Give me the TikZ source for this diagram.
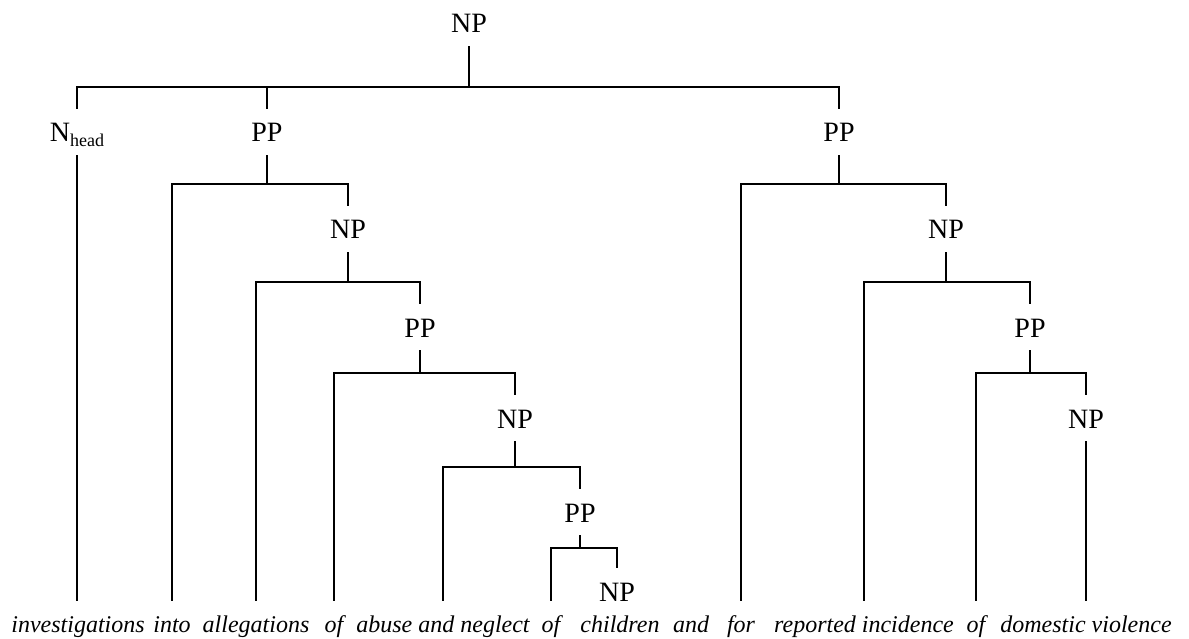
\documentclass[tikz,border=0pt]{standalone}
\usepackage{fontspec}
\setmainfont{Liberation Serif}
\begin{document}
\begin{tikzpicture}[x=1pt,y=-1pt,
  edge/.style={line width=1.3pt},
  lab/.style={font=\fontsize{28}{30}\selectfont, inner sep=0pt, text height=33pt, text depth=13pt, anchor=base},
  word/.style={font=\fontsize{24}{26}\selectfont\itshape, inner sep=0pt, text height=31pt, text depth=6pt, anchor=base}]
\useasboundingbox (0,0) rectangle (1189,639);
% phrase labels
\node[lab] (np0) at (469,33) {NP};
\node[lab] (nh)  at (77,142) {N\raisebox{-5pt}{\fontsize{18}{18}\selectfont head}};
\node[lab] (pp1) at (267,142) {PP};
\node[lab] (pp2) at (839,142) {PP};
\node[lab] (np1) at (348,239) {NP};
\node[lab] (pp3) at (420,337) {PP};
\node[lab] (np2) at (515,428) {NP};
\node[lab] (pp4) at (580,522) {PP};
\node[lab] (np3) at (617,601) {NP};
\node[lab] (np4) at (946,239) {NP};
\node[lab] (pp5) at (1030,337) {PP};
\node[lab] (np5) at (1086,428) {NP};
% words
\node[word] (w1)  at (78,632)   {investigations};
\node[word] (w2)  at (172,632)  {into};
\node[word] (w3)  at (256,632)  {allegations};
\node[word] (w4)  at (334,632)  {of};
\node[word] (w5)  at (443,632)  {abuse and neglect};
\node[word] (w6)  at (551,632)  {of};
\node[word] (w7)  at (620,632)  {children};
\node[word] (w8)  at (691,632)  {and};
\node[word] (w9)  at (741,632)  {for};
\node[word] (w10) at (864,632)  {reported incidence};
\node[word] (w11) at (976,632)  {of};
\node[word] (w12) at (1086,632) {domestic violence};
% bar levels
\coordinate (b0) at (469,87);
\coordinate (b1) at (267,184);
\coordinate (b2) at (348,282);
\coordinate (b3) at (420,373);
\coordinate (b4) at (515,467);
\coordinate (b5) at (580,548);
\coordinate (b6) at (839,184);
\coordinate (b7) at (946,282);
\coordinate (b8) at (1030,373);
% root
\draw[edge] (np0.south) -- (b0);
\draw[edge] (nh.north) -- (nh.north |- b0) -- (pp2.north |- b0) -- (pp2.north);
\draw[edge] (pp1.north) -- (pp1.north |- b0);
\draw[edge] (nh.south) -- (nh.south |- w1.north);
% left PP
\draw[edge] (pp1.south) -- (b1);
\draw[edge] (w2.north) -- (w2.north |- b1) -- (np1.north |- b1) -- (np1.north);
\draw[edge] (np1.south) -- (b2);
\draw[edge] (w3.north) -- (w3.north |- b2) -- (pp3.north |- b2) -- (pp3.north);
\draw[edge] (pp3.south) -- (b3);
\draw[edge] (w4.north) -- (w4.north |- b3) -- (np2.north |- b3) -- (np2.north);
\draw[edge] (np2.south) -- (b4);
\draw[edge] (w5.north) -- (w5.north |- b4) -- (pp4.north |- b4) -- (pp4.north);
\draw[edge] (pp4.south) -- (b5);
\draw[edge] (w6.north) -- (w6.north |- b5) -- (np3.north |- b5) -- (np3.north);
% right PP
\draw[edge] (pp2.south) -- (b6);
\draw[edge] (w9.north) -- (w9.north |- b6) -- (np4.north |- b6) -- (np4.north);
\draw[edge] (np4.south) -- (b7);
\draw[edge] (w10.north) -- (w10.north |- b7) -- (pp5.north |- b7) -- (pp5.north);
\draw[edge] (pp5.south) -- (b8);
\draw[edge] (w11.north) -- (w11.north |- b8) -- (np5.north |- b8) -- (np5.north);
\draw[edge] (np5.south) -- (w12.north);
\end{tikzpicture}
\end{document}
